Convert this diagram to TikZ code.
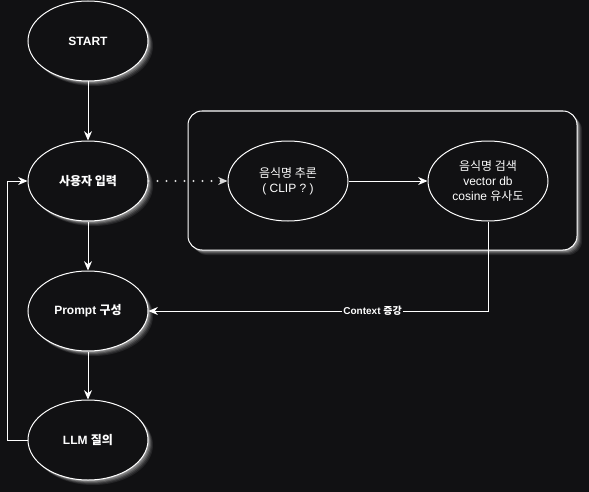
\documentclass[tikz,border=0pt]{standalone}
\usepackage{fontspec}
\setmainfont{Liberation Sans}
\newfontfamily\kr{Noto Sans CJK KR}
\usetikzlibrary{arrows.meta,shapes.geometric}
\definecolor{bgdark}{RGB}{17,17,19}

\tikzset{
  oval/.style={ellipse, draw=white, fill=bgdark, line width=0.75pt, inner sep=0pt,
    minimum width=90pt, minimum height=60pt, text=white, align=center,
    font=\fontsize{9pt}{11pt}\selectfont},
  link/.style={draw=white, line width=0.75pt, -{Stealth[length=7pt,width=6pt]}},
  dotlink/.style={draw=white!85!black, line width=1.6pt, line cap=round,
    dash pattern=on 0pt off 6.75pt, -{Stealth[length=7pt,width=6pt,line width=0pt]}},
  tag/.style={fill=bgdark, text=white, inner sep=0.75pt, font=\fontsize{7.5pt}{9pt}\selectfont\bfseries}
}

\begin{document}
\begin{tikzpicture}[x=0.75pt,y=0.75pt,yscale=-1,xscale=1]
\fill[bgdark] (0,0) rectangle (589,492);
\useasboundingbox (0,0) rectangle (589,492);

% glow under the shapes
\foreach \off/\shade in {5/8,4/16,3/28,2/42,1/55} {
  \fill[white!\shade!bgdark, rounded corners=10.5pt] (188+\off,111+\off) rectangle (577+\off,250+\off);
  \foreach \cy in {41,181,311,440}
    \fill[white!\shade!bgdark] (88+\off,\cy+\off) ellipse [x radius=60, y radius=40];
}

%Rounded Rect
\node[draw=white, fill=bgdark, line width=0.75pt, rounded corners=10.5pt,
  minimum width=291.75pt, minimum height=104.25pt] (box) at (382.5,180.5) {};

% Ellipses
\node[oval] (start) at (88,41) {\bfseries START};
\node[oval] (input) at (88,181) {\kr\bfseries 사용자 입력};
\node[oval] (prompt) at (88,311) {\bfseries Prompt {\kr 구성}};
\node[oval] (llm) at (88,440) {\bfseries LLM {\kr 질의}};
\node[oval] (infer) at (288,181) {{\kr 음식명 추론}\\( CLIP ? )};
\node[oval] (search) at (488,181) {{\kr 음식명 검색}\\vector db\\cosine {\kr 유사도}};

%Straight Lines
\draw[link] (start) -- (input);
\draw[link] (input) -- (prompt);
\draw[link] (prompt) -- (llm);
\draw[dotlink] (input) -- (infer);
\draw[link] (infer) -- (search);
\draw[link] (search) |- node[pos=0.67, tag] {Context {\kr 증강}} (prompt);
\draw[link] (llm.west) -- ++(-20,0) |- (input.west);

\end{tikzpicture}
\end{document}
